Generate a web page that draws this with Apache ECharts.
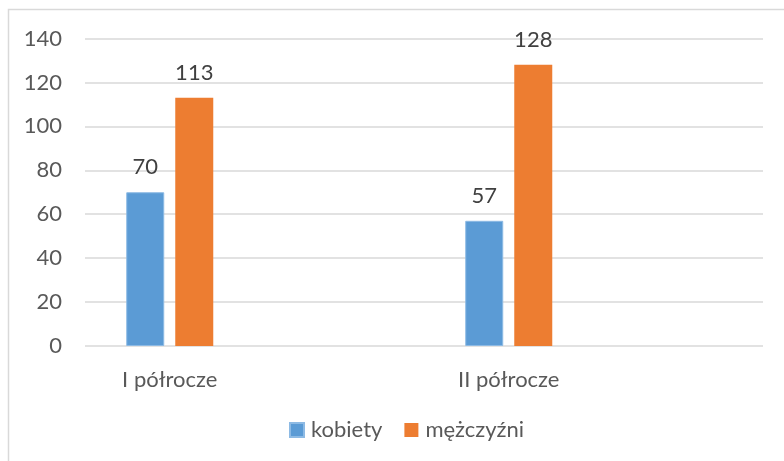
<!DOCTYPE html>
<html>
<head>
<meta charset="utf-8">
<script src="https://cdn.jsdelivr.net/npm/echarts@6/dist/echarts.min.js"></script>
<style>
  html, body { margin: 0; padding: 0; background: #fff; }
  #chart { width: 784px; height: 461px; }
</style>
</head>
<body>
<div id="chart"></div>
<script>
// two real halves, with empty slots after each (as in the original sheet)
const categories = ["I półrocze", "", "II półrocze", ""]
const kobiety = [70, null, 57, null]
const mezczyzni = [113, null, 128, null]
const seriesNames = ["kobiety", "mężczyźni"]

const myChart = echarts.init(document.getElementById('chart'), null, {renderer: 'canvas'})

const font = "Lato, 'Liberation Sans', sans-serif"
const textColor = "#595959"

const option = {
    animation: false,
    textStyle: {fontFamily: font},
    graphic: [
        {
            type: 'rect',
            shape: {x: 8.5, y: 9.5, width: 800, height: 500},
            style: {fill: null, stroke: "#D9D9D9", lineWidth: 1.5},
            silent: true
        }
    ],
    grid: {
        left: 85,
        right: 21,
        top: 38.5,
        bottom: 115
    },
    legend: {
        data: seriesNames,
        bottom: 15,
        left: 284,
        itemWidth: 14,
        itemHeight: 14,
        itemGap: 22,
        icon: 'rect',
        textStyle: {color: textColor, fontSize: 22, fontFamily: font, padding: [0, 0, 0, 2]}
    },
    xAxis: {
        type: 'category',
        data: categories,
        axisTick: {show: false},
        axisLine: {show: false},
        axisLabel: {
            color: textColor,
            fontSize: 22,
            fontFamily: font,
            margin: 23,
            interval: 0
        }
    },
    yAxis: {
        type: 'value',
        min: 0,
        max: 140,
        interval: 20,
        axisLine: {show: false},
        axisTick: {show: false},
        axisLabel: {color: textColor, fontSize: 22, fontFamily: font, margin: 23},
        splitLine: {lineStyle: {color: "#D9D9D9", width: 1.5}}
    },
    series: [
        {
            name: seriesNames[0],
            type: 'bar',
            data: kobiety,
            barWidth: 38,
            barGap: '29%',
            itemStyle: {color: "#5B9BD5", borderColor: "#8DBAE4", borderWidth: 1},
            label: {show: true, position: 'top', distance: 14, color: "#404040", fontSize: 22, fontFamily: font}
        },
        {
            name: seriesNames[1],
            type: 'bar',
            data: mezczyzni,
            barWidth: 38,
            itemStyle: {color: "#ED7D31"},
            label: {show: true, position: 'top', distance: 14, color: "#404040", fontSize: 22, fontFamily: font}
        }
    ]
}

myChart.setOption(option)
</script>
</body>
</html>
